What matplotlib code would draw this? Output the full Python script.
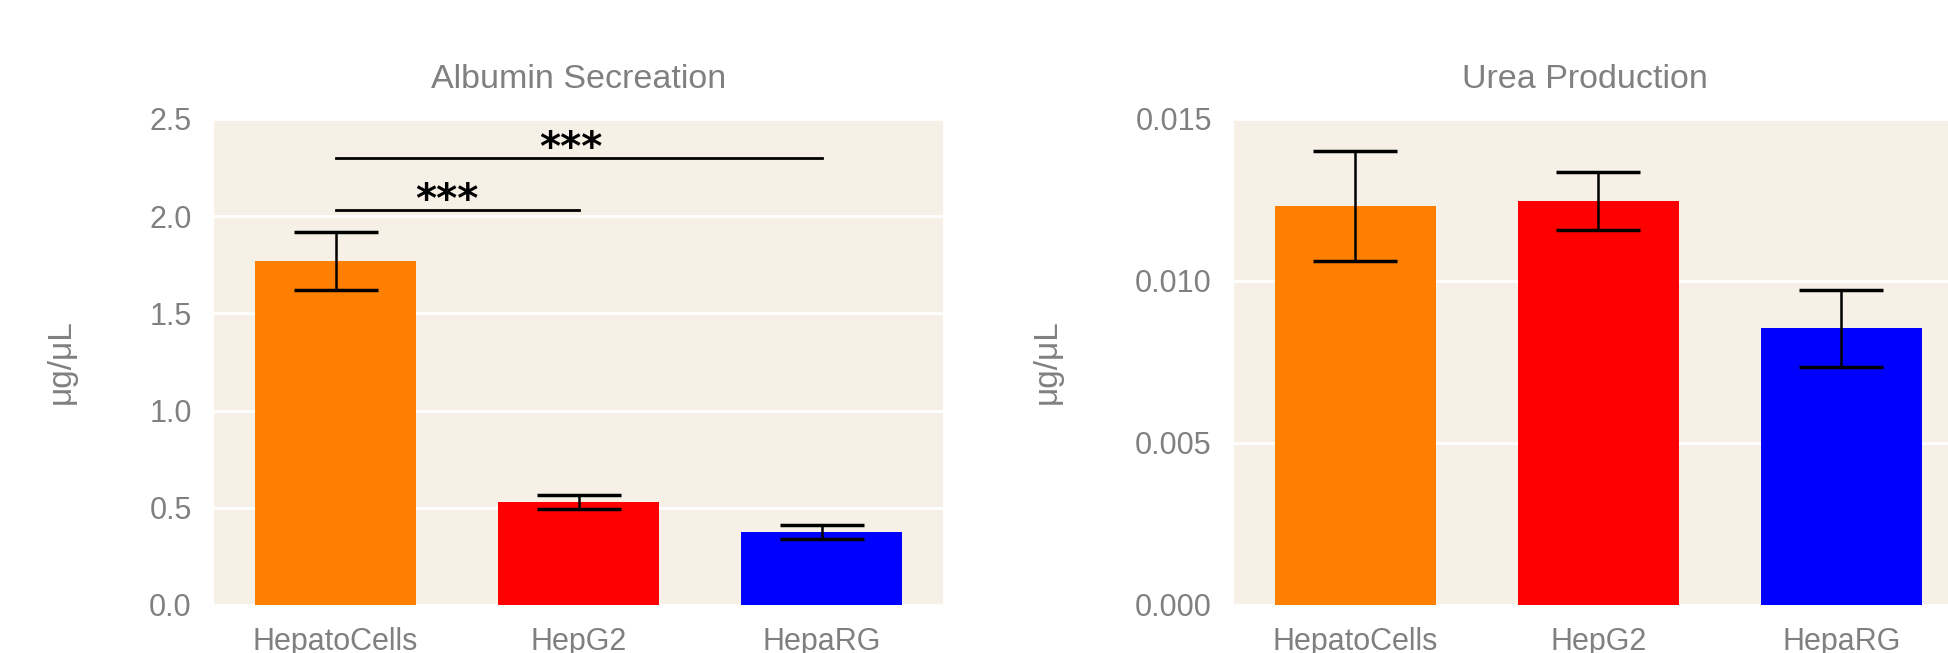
import matplotlib.pyplot as plt
import numpy as np

plt.rcParams['font.family'] = ['Liberation Sans', 'DejaVu Sans']

# data
cells = ['HepatoCells', 'HepG2', 'HepaRG']
colors = ['#FF8000', '#FF0000', '#0000FF']

albumin = [1.77, 0.53, 0.375]
albumin_err = [0.148, 0.034, 0.036]

urea = [0.01231, 0.01246, 0.00854]
urea_err = [0.0017, 0.0009, 0.00119]

# significance brackets: (x_start, x_end, y, star_x, star_y)
sig_lines = [(0, 1, 2.03, 0.46, 2.02), (0, 2, 2.30, 0.97, 2.29)]

bg = '#F6F0E6'
grey = '#808080'

fig = plt.figure(figsize=(19.49, 6.53), dpi=100)
ax1 = fig.add_axes([214 / 1949, 48 / 653, 729 / 1949, 486 / 653])
ax2 = fig.add_axes([1234 / 1949, 48 / 653, 729 / 1949, 486 / 653])


def style(ax, title, ylim, yticks, fmt, tx=0.5):
    x = np.arange(len(cells))
    ax.set_facecolor(bg)
    ax.set_axisbelow(True)
    ax.grid(axis='y', color='white', lw=2)
    for s in ax.spines.values():
        s.set_visible(False)
    ax.set_xlim(-0.5, 2.5)
    ax.set_ylim(*ylim)
    ax.set_yticks(yticks)
    ax.set_yticklabels([fmt.format(v) for v in yticks])
    ax.set_xticks(x)
    ax.set_xticklabels(cells)
    ax.tick_params(length=0, labelsize=22, labelcolor=grey, pad=16)
    ax.set_title(title, color=grey, fontsize=24.5, pad=22, x=tx)
    ax.set_ylabel('μg/μL', color=grey, fontsize=24, labelpad=52)


x = np.arange(len(cells))
ax1.bar(x, albumin, width=0.665, color=colors, zorder=2)
ax1.errorbar(x, albumin, yerr=albumin_err, fmt='none', ecolor='black',
             elinewidth=1.8, capsize=30, capthick=2.5, zorder=3)
for x0, x1, y, sx, sy in sig_lines:
    ax1.plot([x0, x1], [y, y], color='black', lw=2, zorder=3)
    ax1.text(sx, sy, '***', ha='center', va='baseline', fontsize=29,
             fontweight='bold', family='DejaVu Sans', zorder=4)
style(ax1, 'Albumin Secreation', (0, 2.5), [0, 0.5, 1.0, 1.5, 2.0, 2.5], '{:.1f}')

ax2.bar(x, urea, width=0.665, color=colors, zorder=2)
ax2.errorbar(x, urea, yerr=urea_err, fmt='none', ecolor='black',
             elinewidth=1.8, capsize=30, capthick=2.5, zorder=3)
style(ax2, 'Urea Production', (0, 0.015), [0, 0.005, 0.010, 0.015], '{:.3f}',
      tx=0.482)

fig.savefig('out.png', dpi=100)
